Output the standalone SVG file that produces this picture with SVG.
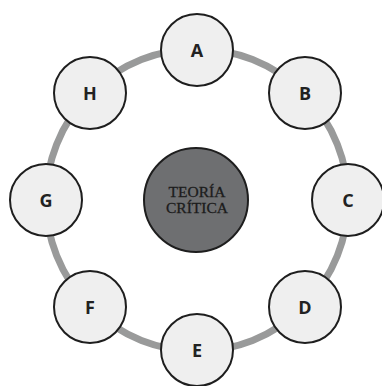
<svg xmlns="http://www.w3.org/2000/svg" width="382" height="386" viewBox="0 0 382 386">
<style>
.ring{fill:none;stroke:#999a9a;stroke-width:7}
.node circle{fill:#efefef;stroke:#1e1e1e;stroke-width:2}
.node text{font-family:"Open Sans","DejaVu Sans",sans-serif;font-weight:700;font-size:18px;fill:#222;text-anchor:middle}
.core circle{fill:#6e6f71;stroke:#1e1e1e;stroke-width:2}
.core text{font-family:"Liberation Serif","DejaVu Serif",serif;font-size:15.5px;fill:#1c1c1c;stroke:#1c1c1c;stroke-width:0.3;text-anchor:middle}
</style>
<rect width="382" height="386" fill="#ffffff"/>
<g id="connectors">
<circle class="ring" cx="197" cy="200" r="151"/>
</g>
<g id="core" class="core">
<circle cx="196" cy="200" r="52"/>
<text x="197" y="197">TEORÍA</text>
<text x="197" y="213">CRÍTICA</text>
</g>
<g id="A" class="node"><circle cx="197" cy="50" r="36"/><text x="197" y="56.5">A</text></g>
<g id="B" class="node"><circle cx="305" cy="93" r="36"/><text x="305" y="99.5">B</text></g>
<g id="C" class="node"><circle cx="348" cy="200" r="36"/><text x="348" y="206.5">C</text></g>
<g id="D" class="node"><circle cx="305" cy="307" r="36"/><text x="305" y="313.5">D</text></g>
<g id="E" class="node"><circle cx="197" cy="350" r="36"/><text x="197" y="356.5">E</text></g>
<g id="F" class="node"><circle cx="90" cy="307" r="36"/><text x="90" y="313.5">F</text></g>
<g id="G" class="node"><circle cx="46" cy="200" r="36"/><text x="46" y="206.5">G</text></g>
<g id="H" class="node"><circle cx="90" cy="93" r="36"/><text x="90" y="99.5">H</text></g>
</svg>
